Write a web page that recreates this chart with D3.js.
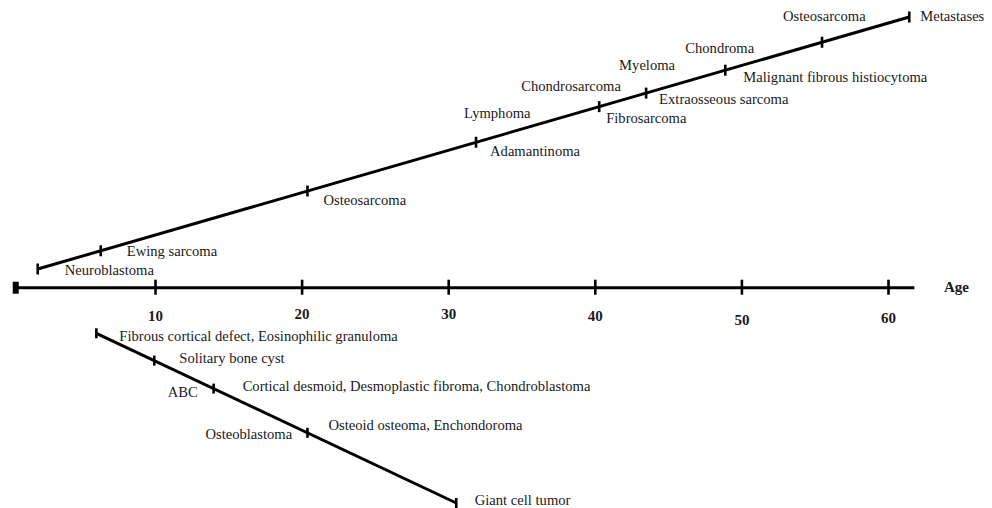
<!DOCTYPE html>
<html>
<head>
<meta charset="utf-8">
<script src="https://cdn.jsdelivr.net/npm/d3@7/dist/d3.min.js"></script>
<style>
  html, body { margin: 0; padding: 0; background: #fff; }
  svg { display: block; }
  text { font-family: "Liberation Serif", "Times New Roman", serif; fill: #1a1a1a; }
</style>
</head>
<body>
<svg id="chart" width="992" height="508"></svg>
<script>
// ---------------- DATA ----------------
const ageTicks = [10, 20, 30, 40, 50, 60];
const axisRange = [0.5, 61.8];          // ages spanned by the axis line
const axisTitle = "Age";

// Upper line (malignant tumours): ages of marks along the line
const upperAges = [2.0, 6.3, 20.4, 31.9, 40.3, 43.5, 48.9, 55.5, 61.45];
// labels: [text, index of mark on upper line]
const upperLabels = [
  ["Neuroblastoma", 0],
  ["Ewing sarcoma", 1],
  ["Osteosarcoma", 2],
  ["Lymphoma", 3],
  ["Adamantinoma", 3],
  ["Chondrosarcoma", 4],
  ["Fibrosarcoma", 4],
  ["Myeloma", 5],
  ["Extraosseous sarcoma", 5],
  ["Chondroma", 6],
  ["Malignant fibrous histiocytoma", 6],
  ["Osteosarcoma", 7],
  ["Metastases", 8]
];

// Lower line (benign tumours)
const lowerAges = [6.0, 9.95, 14.0, 20.4, 30.55];
const lowerLabels = [
  ["Fibrous cortical defect, Eosinophilic granuloma", 0],
  ["Solitary bone cyst", 1],
  ["ABC", 2],
  ["Cortical desmoid, Desmoplastic fibroma, Chondroblastoma", 2],
  ["Osteoblastoma", 3],
  ["Osteoid osteoma, Enchondoroma", 3],
  ["Giant cell tumor", 4]
];

// ---------------- LAYOUT ----------------
const upperOffsets = [[27,6],[26,5],[16,14],[-12,-24],[14,14],[-78,-16],[7,16],[-27,-23],[13,11],[-40,-17],[18,12],[-39,-21],[11,4]];
const lowerOffsets = [[23,8],[25,2],[-46,8],[29,2],[-102,6],[21,-3],[18.5,1.5]];
const tickLabelNudge = [0, -2, -2, 0, 4, 2];

const svg = d3.select("#chart");
const x = d3.scaleLinear().domain([10, 60]).range([155, 888]);
const axisY = 287.7;

// lines: y as linear function of age
const yUp = d3.scaleLinear().domain([upperAges[0], upperAges[upperAges.length - 1]]).range([269, 17]);
const yLow = d3.scaleLinear().domain([lowerAges[0], lowerAges[lowerAges.length - 1]]).range([333.3, 503]);

const stroke = "#000";

// ---- Age axis ----
const axisG = svg.append("g").attr("transform", `translate(0,${axisY})`);
axisG.append("line")
  .attr("x1", x(axisRange[0])).attr("x2", x(axisRange[1]))
  .attr("y1", 0).attr("y2", 0)
  .attr("stroke", stroke).attr("stroke-width", 3);
axisG.append("rect")
  .attr("x", x(axisRange[0]) - 3).attr("y", -6)
  .attr("width", 6).attr("height", 12).attr("fill", stroke);

const axis = d3.axisBottom(x).tickValues(ageTicks).tickSizeInner(7).tickSizeOuter(0).tickPadding(0);
const ag = svg.append("g").attr("transform", `translate(0,${axisY})`).call(axis);
ag.select(".domain").remove();
ag.selectAll(".tick line").attr("y1", -8).attr("y2", 7).attr("stroke", stroke).attr("stroke-width", 2.6);
ag.selectAll(".tick text")
  .attr("y", (d, i) => 33 + tickLabelNudge[i])
  .attr("dy", null)
  .attr("font-size", 15).attr("font-weight", "bold")
  .attr("font-family", "'Liberation Serif', 'Times New Roman', serif")
  .attr("fill", "#1a1a1a");

svg.append("text")
  .attr("x", 944).attr("y", 292)
  .attr("font-size", 15).attr("font-weight", "bold")
  .text(axisTitle);

// ---- helper to draw a tumour line ----
function drawLine(ages, yScale, labels, offsets, capHalf) {
  const g = svg.append("g");
  const first = ages[0], last = ages[ages.length - 1];
  g.append("line")
    .attr("x1", x(first)).attr("y1", yScale(first))
    .attr("x2", x(last)).attr("y2", yScale(last))
    .attr("stroke", stroke).attr("stroke-width", 3);
  g.selectAll("line.mark").data(ages).enter().append("line")
    .attr("class", "mark")
    .attr("x1", d => x(d)).attr("x2", d => x(d))
    .attr("y1", d => yScale(d) - capHalf).attr("y2", d => yScale(d) + capHalf)
    .attr("stroke", stroke).attr("stroke-width", 2.6);
  g.selectAll("text").data(labels).enter().append("text")
    .attr("x", (d, i) => x(ages[d[1]]) + offsets[i][0])
    .attr("y", (d, i) => yScale(ages[d[1]]) + offsets[i][1])
    .attr("font-size", 14.6)
    .text(d => d[0]);
}

drawLine(upperAges, yUp, upperLabels, upperOffsets, 5.5);
drawLine(lowerAges, yLow, lowerLabels, lowerOffsets, 5);
</script>
</body>
</html>
